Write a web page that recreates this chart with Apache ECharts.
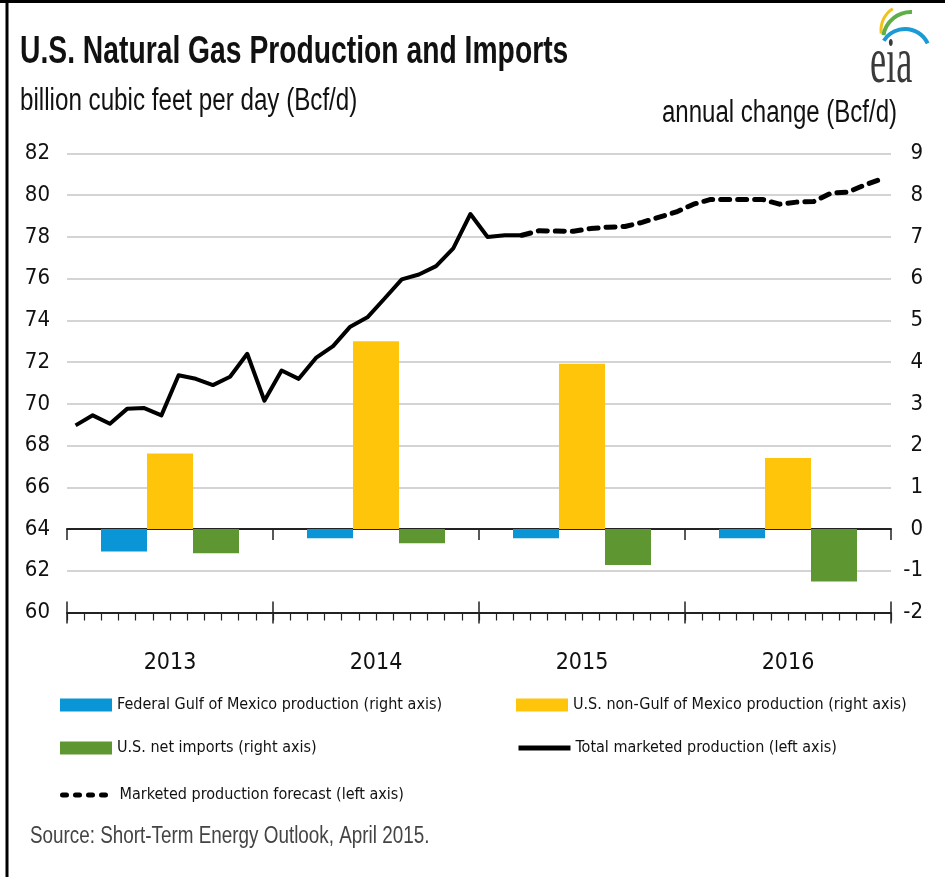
<!DOCTYPE html>
<html>
<head>
<meta charset="utf-8">
<script src="https://cdn.jsdelivr.net/npm/echarts@6/dist/echarts.min.js"></script>
<style>
    html, body { margin: 0; padding: 0; background: #fff; }
    #chart { width: 945px; height: 877px; }
</style>
</head>
<body>
<div id="chart"></div>
<script>
// annual change bars (right axis, Bcf/d)
const years = ['2013', '2014', '2015', '2016'];
const federalGulf = [-0.54, -0.22, -0.22, -0.22];
const nonGulf = [1.81, 4.50, 3.96, 1.70];
const netImports = [-0.58, -0.34, -0.86, -1.26];

// monthly marketed production (left axis, Bcf/d), Jan 2013 - Mar 2015
const production = [68.97, 69.45, 69.05, 69.76, 69.8, 69.45, 71.37, 71.2, 70.9, 71.3, 72.4, 70.15,
    71.6, 71.2, 72.2, 72.77, 73.7, 74.15, 75.05, 75.97, 76.2, 76.6, 77.45, 79.1,
    78.0, 78.08, 78.08];
// forecast, Mar 2015 - Dec 2016
const forecast = [78.08, 78.3, 78.28, 78.27, 78.4, 78.47, 78.5, 78.7, 78.95, 79.2,
    79.57, 79.8, 79.8, 79.8, 79.8, 79.57, 79.67, 79.7, 80.1, 80.15, 80.5, 80.8];

const leftTicks = { min: 60, max: 82, interval: 2 };
const rightTicks = { min: -2, max: 9, interval: 1 };

const months = [];
years.forEach(y => {
    for (let m = 1; m <= 12; m++) months.push(y + '-' + m);
});
const forecastData = new Array(production.length - 1).fill(null).concat(forecast);

const FONT = "'DejaVu Sans Condensed', 'Liberation Sans', sans-serif";
const WIDE = "'Liberation Sans', Arial, sans-serif";
const BLUE = '#0a96d6';
const YELLOW = '#ffc50a';
const GREEN = '#5e9732';

const legendText = { fontFamily: FONT, fontSize: 16, color: '#111' };
function legendAt(item, left, top) {
    return {
        data: [item], left: left, top: top, padding: 0,
        itemWidth: 52, itemHeight: 13, itemGap: 0,
        textStyle: legendText, selectedMode: false
    };
}
const hideDot = { color: 'rgba(0,0,0,0)', borderWidth: 0 };

const myChart = echarts.init(document.getElementById('chart'));
const option = {
    animation: false,
    backgroundColor: '#fff',
    grid: { left: 67, right: 54, top: 153.5, height: 459 },
    legend: [
        legendAt({ name: 'Federal Gulf of Mexico production (right axis)', icon: 'rect' }, 60, 697),
        legendAt({ name: 'U.S. non-Gulf of Mexico production (right axis)', icon: 'rect' }, 516, 697),
        legendAt({ name: 'U.S. net imports (right axis)', icon: 'rect' }, 60, 740),
        legendAt({ name: 'Total marketed production (left axis)', itemStyle: hideDot,
            lineStyle: { width: 5, color: '#000' } }, 516, 740),
        legendAt({ name: 'Marketed production forecast (left axis)', itemStyle: hideDot,
            lineStyle: { width: 5, color: '#000', type: [4, 9], cap: 'round' } }, 60, 787)
    ],
    xAxis: [
        {
            // axis line at zero of the right axis
            type: 'category', data: years, position: 'bottom',
            axisLine: { onZero: true, onZeroAxisIndex: 1, lineStyle: { color: '#222', width: 2 } },
            axisTick: { show: true, length: 11, lineStyle: { color: '#222', width: 1.5 } },
            axisLabel: { show: false }
        },
        {
            type: 'category', data: months, position: 'bottom',
            axisLine: { onZero: false, lineStyle: { color: '#222', width: 2 } },
            axisTick: { show: true, interval: 0, length: 8, lineStyle: { color: '#222', width: 1.2 } },
            axisLabel: { show: false }
        },
        {
            type: 'category', data: years, position: 'bottom',
            axisLine: { show: false, onZero: false },
            axisTick: { show: true, inside: true, length: 11, lineStyle: { color: '#222', width: 1.5 } },
            axisLabel: { fontFamily: FONT, fontSize: 23, color: '#111', margin: 39 }
        },
        {
            type: 'category', data: years, position: 'bottom',
            axisLine: { show: false, onZero: false },
            axisTick: { show: true, length: 11, lineStyle: { color: '#222', width: 1.5 } },
            axisLabel: { show: false }
        }
    ],
    yAxis: [
        {
            type: 'value', position: 'left',
            min: leftTicks.min, max: leftTicks.max, interval: leftTicks.interval,
            axisLine: { show: false }, axisTick: { show: false },
            axisLabel: { fontFamily: FONT, fontSize: 22, color: '#111', margin: 17 },
            splitLine: { show: true, lineStyle: { color: '#d4d4d4', width: 2 } }
        },
        {
            type: 'value', position: 'right',
            min: rightTicks.min, max: rightTicks.max, interval: rightTicks.interval,
            axisLine: { show: false }, axisTick: { show: false },
            axisLabel: { fontFamily: FONT, fontSize: 22, color: '#111', margin: 32, align: 'right' },
            splitLine: { show: false }
        }
    ],
    series: [
        {
            name: 'Federal Gulf of Mexico production (right axis)', type: 'bar',
            xAxisIndex: 0, yAxisIndex: 1, data: federalGulf,
            barWidth: 46, barGap: '0%', itemStyle: { color: BLUE }
        },
        {
            name: 'U.S. non-Gulf of Mexico production (right axis)', type: 'bar',
            xAxisIndex: 0, yAxisIndex: 1, data: nonGulf,
            barWidth: 46, barGap: '0%', itemStyle: { color: YELLOW }
        },
        {
            name: 'U.S. net imports (right axis)', type: 'bar',
            xAxisIndex: 0, yAxisIndex: 1, data: netImports,
            barWidth: 46, barGap: '0%', itemStyle: { color: GREEN }
        },
        {
            name: 'Total marketed production (left axis)', type: 'line',
            xAxisIndex: 1, yAxisIndex: 0, data: production,
            symbol: 'none', z: 5,
            itemStyle: { color: '#000' },
            lineStyle: { color: '#000', width: 4, join: 'round' }
        },
        {
            name: 'Marketed production forecast (left axis)', type: 'line',
            xAxisIndex: 1, yAxisIndex: 0, data: forecastData,
            symbol: 'none', z: 5,
            itemStyle: { color: '#000' },
            lineStyle: { color: '#000', width: 5, type: [9, 8], cap: 'round', join: 'round' }
        }
    ],
    graphic: [
        // frame on the left and top
        { type: 'line', shape: { x1: 7, y1: 0, x2: 7, y2: 877 }, style: { stroke: '#000', lineWidth: 3 } },
        { type: 'line', shape: { x1: 0, y1: 1.5, x2: 945, y2: 1.5 }, style: { stroke: '#000', lineWidth: 3 } },
        {
            type: 'text', x: 20, y: 33, scaleX: 0.725,
            style: { text: 'U.S. Natural Gas Production and Imports', font: 'bold 39px ' + WIDE, fill: '#111', verticalAlign: 'top' }
        },
        {
            type: 'text', x: 20, y: 86, scaleX: 0.78,
            style: { text: 'billion cubic feet per day (Bcf/d)', font: '31px ' + WIDE, fill: '#111', verticalAlign: 'top' }
        },
        {
            type: 'text', x: 662, y: 98, scaleX: 0.775,
            style: { text: 'annual change (Bcf/d)', font: '31px ' + WIDE, fill: '#111', verticalAlign: 'top' }
        },
        {
            type: 'text', x: 30, y: 825, scaleX: 0.82,
            style: { text: 'Source: Short-Term Energy Outlook, April 2015.', font: '23px ' + WIDE, fill: '#444', verticalAlign: 'top' }
        },
        // eia logo
        {
            type: 'text', x: 870, y: 98, scaleX: 0.55,
            style: { text: 'eia', font: '66px "Liberation Serif", "DejaVu Serif", serif', fill: '#3a3a3a', verticalAlign: 'bottom' }
        },
        {
            type: 'arc', shape: { cx: 906, cy: 30, r: 25, startAngle: 172 * Math.PI / 180, endAngle: 238 * Math.PI / 180, clockwise: true },
            style: { stroke: '#f2c21b', lineWidth: 3, fill: 'none' }
        },
        {
            type: 'arc', shape: { cx: 911, cy: 40, r: 28, startAngle: 190 * Math.PI / 180, endAngle: 272 * Math.PI / 180, clockwise: true },
            style: { stroke: '#5fae47', lineWidth: 4, fill: 'none' }
        },
        {
            type: 'arc', shape: { cx: 905, cy: 54, r: 25, startAngle: 212 * Math.PI / 180, endAngle: 335 * Math.PI / 180, clockwise: true },
            style: { stroke: '#1b9ad6', lineWidth: 4, fill: 'none' }
        }
    ]
};
myChart.setOption(option);
</script>
</body>
</html>
